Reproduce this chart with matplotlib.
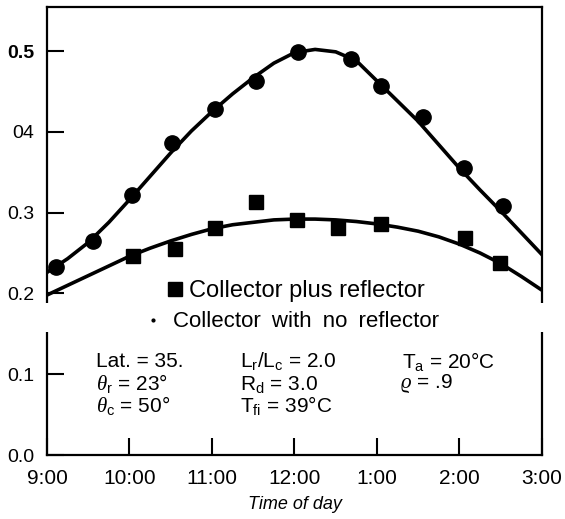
import numpy as np
import matplotlib.pyplot as plt
from matplotlib.lines import Line2D
from matplotlib.patches import Rectangle

plt.rcParams["font.family"] = ["Liberation Sans", "DejaVu Sans"]
plt.rcParams["mathtext.fontset"] = "custom"
plt.rcParams["mathtext.rm"] = "Liberation Sans"
plt.rcParams["mathtext.it"] = "Liberation Serif:italic"
plt.rcParams["mathtext.bf"] = "Liberation Sans:bold"
plt.rcParams["mathtext.fallback"] = "stix"

# puntos medidos (horas desde medianoche)
horas_sin = [9.11, 9.56, 10.03, 10.52, 11.04, 11.53, 12.04, 12.68, 13.05, 13.56, 14.05, 14.53]
efic_sin = [0.233, 0.265, 0.322, 0.386, 0.428, 0.463, 0.499, 0.490, 0.457, 0.418, 0.355, 0.308]

horas_con = [10.04, 10.55, 11.04, 11.53, 12.03, 12.53, 13.05, 14.07, 14.49]
efic_con = [0.246, 0.255, 0.281, 0.313, 0.291, 0.281, 0.286, 0.269, 0.238]

# curvas ajustadas leidas cada cuarto de hora
horas_curva = [9.0, 9.25, 9.5, 9.75, 10.0, 10.25, 10.5, 10.75, 11.0, 11.25, 11.5, 11.75,
               12.0, 12.25, 12.5, 12.75, 13.0, 13.25, 13.5, 13.75, 14.0, 14.25, 14.5, 14.75, 15.0]
curva_sin = [0.226, 0.243, 0.263, 0.288, 0.316, 0.345, 0.374, 0.401, 0.425, 0.447, 0.467, 0.485,
             0.498, 0.502, 0.499, 0.488, 0.463, 0.438, 0.413, 0.384, 0.355, 0.328, 0.302, 0.275, 0.248]
curva_con = [0.198, 0.210, 0.222, 0.234, 0.246, 0.256, 0.265, 0.273, 0.280, 0.285, 0.288, 0.291,
             0.292, 0.292, 0.291, 0.289, 0.286, 0.282, 0.277, 0.270, 0.261, 0.250, 0.237, 0.221, 0.204]

ticks_x = [9, 10, 11, 12, 13, 14, 15]
etiquetas_x = ["9:00", "10:00", "11:00", "12:00", "1:00", "2:00", "3:00"]
ticks_y = [0.0, 0.1, 0.2, 0.3, 0.4, 0.5]
etiquetas_y = ["0.0", "0.1", "0.2", "0.3", "04", "0.5"]

fig = plt.figure(figsize=(5.65, 5.19), dpi=100)
ax = fig.add_axes([0.0832, 0.1233, 0.876, 0.8632])

ax.plot(horas_curva, curva_sin, color="black", linewidth=2.6, solid_joinstyle="round")
ax.plot(horas_curva, curva_con, color="black", linewidth=2.6, solid_joinstyle="round")
ax.plot(horas_sin, efic_sin, "o", color="black", markersize=11, clip_on=False)
cuadros, = ax.plot(horas_con, efic_con, "s", color="black", markersize=10, clip_on=False)

ax.set_xlim(9, 15)
ax.set_ylim(0, 0.5545)
ax.set_xticks(ticks_x)
ax.set_xticklabels(etiquetas_x, fontsize=15)
ax.set_yticks(ticks_y)
ax.set_yticklabels(etiquetas_y, fontsize=14)
ax.get_yticklabels()[-1].set_fontweight("bold")
ax.tick_params(axis="both", direction="in", length=12, width=1.5, right=False, top=False)
ax.tick_params(axis="x", pad=10)
ax.tick_params(axis="y", pad=9)
for lado in ax.spines.values():
    lado.set_linewidth(1.6)

ax.set_xlabel("Time of day", fontsize=13, style="italic", labelpad=6)

# leyenda en dos lineas
ley1 = ax.legend(handles=[cuadros], labels=["Collector plus reflector"], loc="center left",
                 bbox_to_anchor=(0.242, 0.366), frameon=False, fontsize=17, borderpad=0,
                 borderaxespad=0, handlelength=0.68, handletextpad=0.25)
ax.add_artist(ley1)
punto = Line2D([], [], marker=".", linestyle="none", color="black", markersize=4)
ley2 = ax.legend(handles=[punto], labels=["Collector\u2002with\u2002no\u2002reflector"],
                 loc="center left", bbox_to_anchor=(0.204, 0.297), frameon=False, fontsize=16,
                 borderpad=0, borderaxespad=0, handlelength=0.45, handletextpad=0.68)
ley1.set_zorder(5)
ley2.set_zorder(5)

# hueco blanco en los ejes (como en el original escaneado)
ax.add_patch(Rectangle((-0.02, 0.2746), 1.04, 0.0645, transform=ax.transAxes,
                       facecolor="white", edgecolor="none", zorder=4, clip_on=False))

# parametros
fs = 15
ax.text(0.099, 0.196, "Lat. = 35.", transform=ax.transAxes, fontsize=fs)
ax.text(0.099, 0.145, r"$\theta_{\rm r}$ = 23°", transform=ax.transAxes, fontsize=fs)
ax.text(0.099, 0.096, r"$\theta_{\rm c}$ = 50°", transform=ax.transAxes, fontsize=fs)
ax.text(0.390, 0.196, r"L$_{\rm r}$/L$_{\rm c}$ = 2.0", transform=ax.transAxes, fontsize=fs)
ax.text(0.390, 0.145, r"R$_{\rm d}$ = 3.0", transform=ax.transAxes, fontsize=fs)
ax.text(0.390, 0.096, r"T$_{\rm fi}$ = 39°C", transform=ax.transAxes, fontsize=fs)
ax.text(0.718, 0.194, r"T$_{\rm a}$ = 20°C", transform=ax.transAxes, fontsize=fs)
ax.text(0.713, 0.150, r"$\varrho$ = .9", transform=ax.transAxes, fontsize=fs)

plt.savefig("out.png", dpi=100)
plt.close()
